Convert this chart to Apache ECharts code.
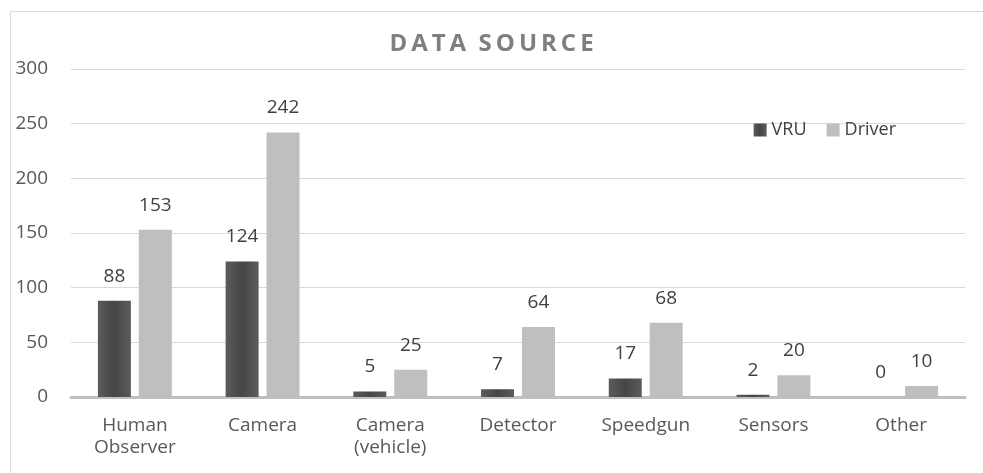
<!DOCTYPE html>
<html>
<head>
<meta charset="utf-8">
<script src="https://cdn.jsdelivr.net/npm/echarts@6/dist/echarts.min.js"></script>
<style>
  html, body { margin: 0; padding: 0; background: #fff; }
  #chart { width: 983px; height: 473px; }
</style>
</head>
<body>
<div id="chart"></div>
<script>
const categories = ['Human\nObserver', 'Camera', 'Camera\n(vehicle)', 'Detector', 'Speedgun', 'Sensors', 'Other']
const vruValues = [88, 124, 5, 7, 17, 2, 0]
const driverValues = [153, 242, 25, 64, 68, 20, 10]
const yTicks = [0, 50, 100, 150, 200, 250, 300]

const font = '"Open Sans", "Noto Sans", sans-serif'

const chart = echarts.init(document.getElementById('chart'))

chart.setOption({
  backgroundColor: '#fff',
  textStyle: { fontFamily: font },
  title: {
    text: 'D\u2009A\u2009T\u2009A  S\u2009O\u2009U\u2009R\u2009C\u2009E',
    left: 'center',
    top: 27,
    textStyle: {
      fontFamily: font,
      fontSize: 24,
      fontWeight: 'bold',
      color: '#7f7f7f'
    }
  },
  legend: {
    data: ['VRU', 'Driver'],
    right: 82,
    top: 116,
    itemWidth: 13,
    itemHeight: 13,
    itemGap: 20,
    icon: 'rect',
    textStyle: { fontSize: 18, color: '#404040', fontFamily: font }
  },
  graphic: [{
    type: 'rect',
    shape: { x: 10.5, y: 11.5, width: 1000, height: 500 },
    style: { fill: 'none', stroke: '#d9d9d9', lineWidth: 1 },
    silent: true
  }],
  grid: {
    left: 71,
    right: 18,
    top: 69,
    bottom: 76
  },
  xAxis: {
    type: 'category',
    data: categories,
    axisTick: { show: false },
    axisLine: { lineStyle: { color: '#bfbfbf', width: 3 } },
    axisLabel: {
      color: '#595959',
      fontSize: 19,
      lineHeight: 22,
      margin: 18,
      fontFamily: font
    }
  },
  yAxis: {
    type: 'value',
    min: yTicks[0],
    max: yTicks[yTicks.length - 1],
    interval: 50,
    axisLine: { show: false },
    axisTick: { show: false },
    splitLine: { lineStyle: { color: '#d9d9d9', width: 1 } },
    axisLabel: {
      color: '#595959',
      fontSize: 19,
      margin: 23,
      fontFamily: font
    }
  },
  series: [
    {
      name: 'VRU',
      type: 'bar',
      data: vruValues,
      barWidth: 33,
      barGap: '24%',
      itemStyle: {
        color: new echarts.graphic.LinearGradient(0, 0, 1, 0, [
          { offset: 0, color: '#5c5c5c' },
          { offset: 0.5, color: '#454545' },
          { offset: 1, color: '#5c5c5c' }
        ])
      },
      label: {
        show: true,
        position: 'top',
        distance: 15,
        fontSize: 19,
        color: '#404040',
        fontFamily: font
      }
    },
    {
      name: 'Driver',
      type: 'bar',
      data: driverValues,
      barWidth: 33,
      itemStyle: { color: '#bfbfbf' },
      label: {
        show: true,
        position: 'top',
        distance: 15,
        fontSize: 19,
        color: '#404040',
        fontFamily: font
      }
    }
  ]
})
</script>
</body>
</html>
